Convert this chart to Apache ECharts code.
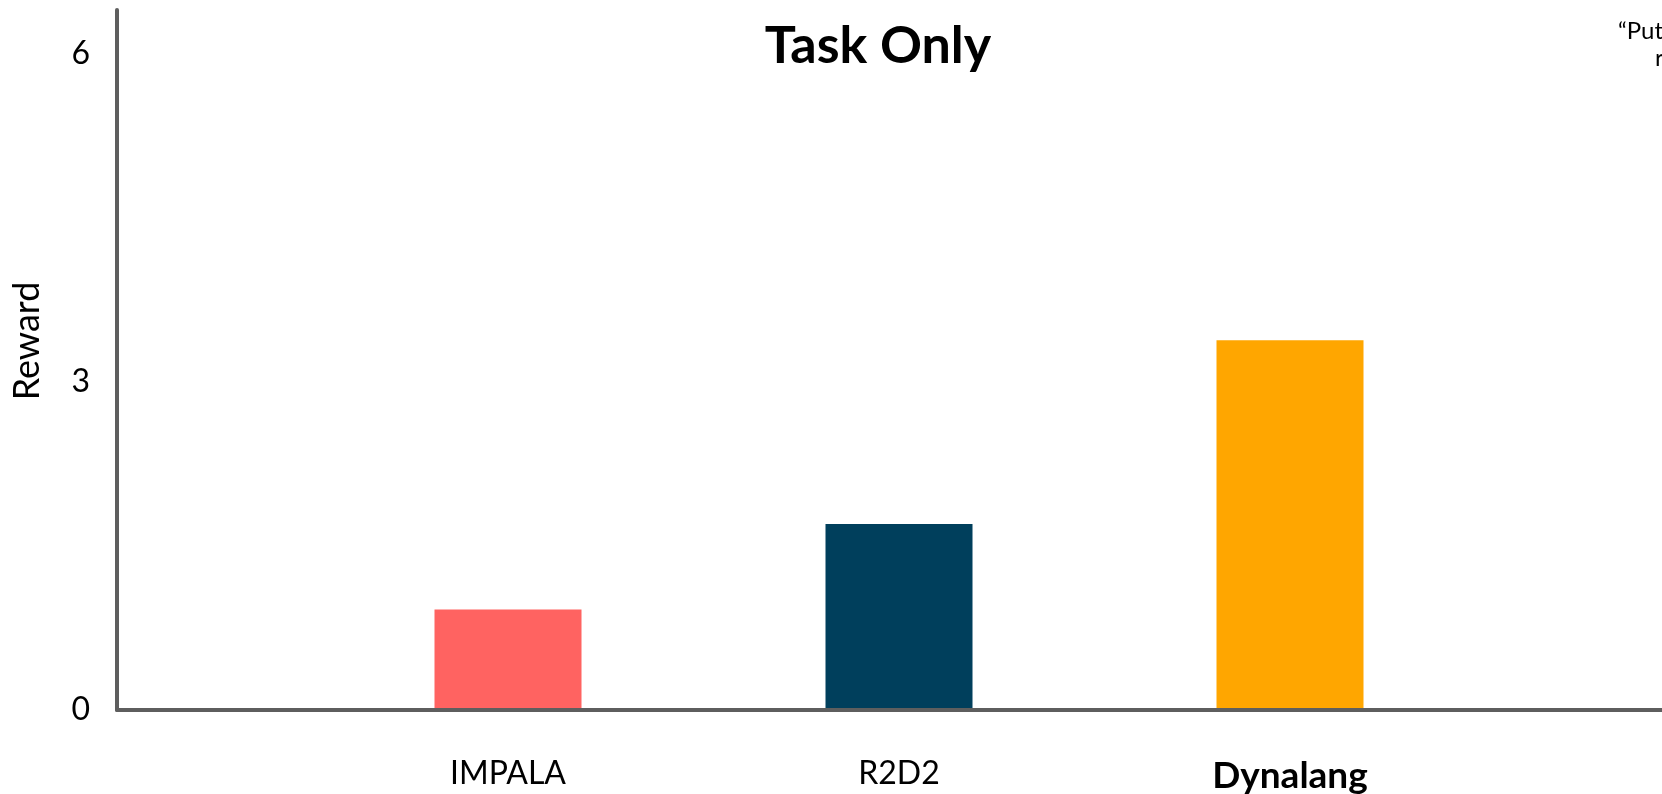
<!DOCTYPE html>
<html>
<head>
<meta charset="utf-8">
<title>Task Only</title>
<script src="https://cdn.jsdelivr.net/npm/echarts@6/dist/echarts.min.js"></script>
<style>
  html, body { margin: 0; padding: 0; background: #ffffff; }
  #chart { width: 1662px; height: 794px; }
</style>
</head>
<body>
<div id="chart"></div>
<script>
// Methods along the x axis; the blank end slots keep the bars off the axis corners.
const categories = ['', 'IMPALA', 'R2D2', 'Dynalang', ''];
const rewards = [null, 0.92, 1.70, 3.38, null];
const yTickValues = [0, 3, 6];
const highlighted = 'Dynalang';
const methodColors = { IMPALA: '#ff6361', R2D2: '#003f5c', Dynalang: '#ffa600' };

const FONT = 'Lato, "Open Sans", sans-serif';
const AXIS_COLOR = '#5e5e5e';

const chart = echarts.init(document.getElementById('chart'), null, { renderer: 'canvas' });

const barData = rewards.map((v, i) =>
  v == null ? '-' : { value: v, itemStyle: { color: methodColors[categories[i]] } }
);

chart.setOption({
  animation: false,
  backgroundColor: '#ffffff',
  grid: {
    left: 117, top: 10, width: 1564, height: 700,
    containLabel: false,
    outerBoundsMode: 'none'
  },
  graphic: [
    {
      type: 'text', x: 878, y: 46, z: 10,
      style: { text: 'Task Only', align: 'center', verticalAlign: 'middle',
               font: 'bold 52px ' + FONT, fill: '#000000' }
    },
    {
      type: 'text', x: 1618, y: 31, z: 10,
      style: { text: '\u201cPut the bottle in the', align: 'left', verticalAlign: 'middle',
               font: '24px ' + FONT, fill: '#000000' }
    },
    {
      type: 'text', x: 1655, y: 58, z: 10,
      style: { text: 'recycling bin\u201d', align: 'left', verticalAlign: 'middle',
               font: '24px ' + FONT, fill: '#000000' }
    }
  ],
  xAxis: {
    type: 'category',
    data: categories,
    boundaryGap: false,
    z: 10,
    axisLine: { show: true, lineStyle: { color: AXIS_COLOR, width: 4 } },
    axisTick: { show: false },
    splitLine: { show: false },
    axisLabel: {
      interval: 0,
      margin: 48,
      formatter: v => (v === highlighted ? '{b|' + v + '}' : '{n|' + v + '}'),
      rich: {
        n: { fontFamily: FONT, fontSize: 32, color: '#000000' },
        b: { fontFamily: FONT, fontSize: 37, fontWeight: 'bold', color: '#000000' }
      }
    }
  },
  yAxis: {
    type: 'value',
    min: 0,
    max: 6.4,
    interval: 3,
    z: 10,
    name: 'Reward',
    nameLocation: 'middle',
    nameRotate: 90,
    nameGap: 72,
    nameTextStyle: { color: '#000000', fontFamily: FONT, fontSize: 36, padding: [0, 0, 0, 38] },
    axisLine: { show: true, lineStyle: { color: AXIS_COLOR, width: 4 } },
    axisTick: { show: false },
    splitLine: { show: false },
    axisLabel: {
      customValues: yTickValues,
      margin: 27,
      color: '#000000',
      fontFamily: FONT,
      fontSize: 32
    }
  },
  series: [
    {
      type: 'bar',
      data: barData,
      barWidth: 147,
      itemStyle: { borderWidth: 0 }
    }
  ]
});
</script>
</body>
</html>
